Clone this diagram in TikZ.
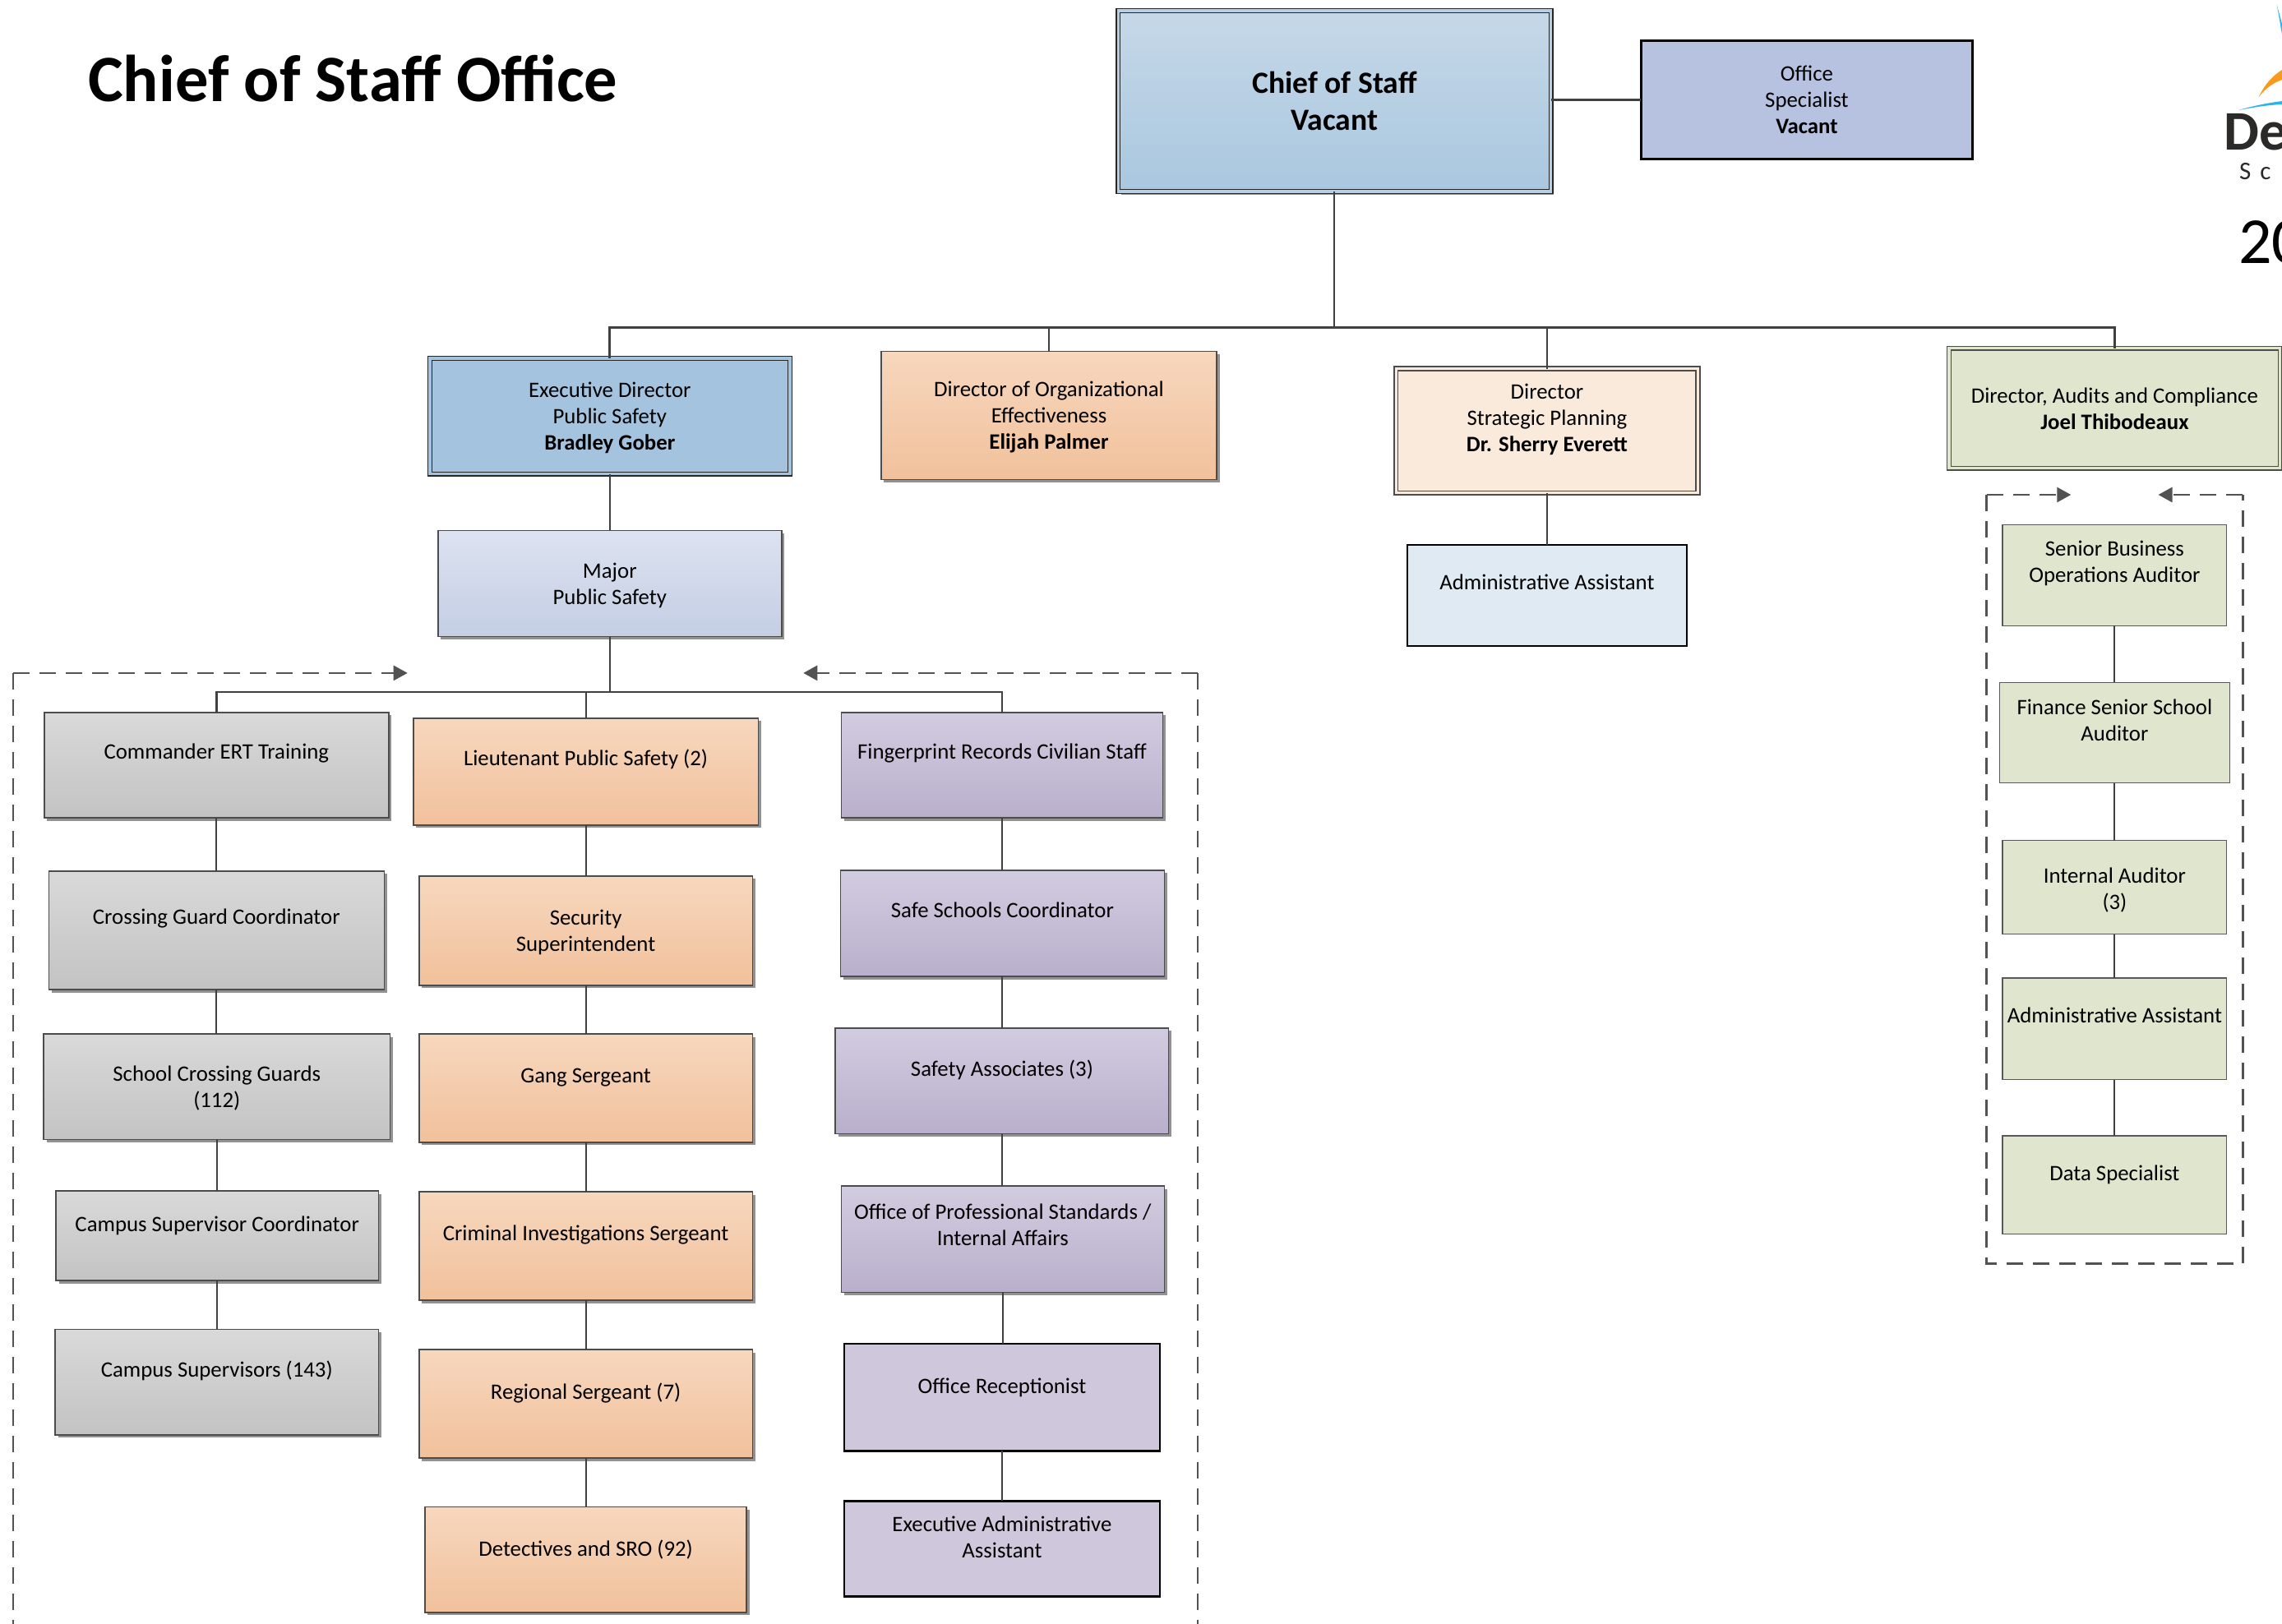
\documentclass[tikz,border=0pt]{standalone}
\usepackage{fontspec}
\setmainfont{Carlito}
\usetikzlibrary{shadows,arrows.meta}
\tikzset{
  base/.style={rectangle,inner sep=0pt,outer sep=0pt,font=\fontsize{26.8}{32}\selectfont,text=black},
  shad/.style={drop shadow={shadow xshift=3.5pt,shadow yshift=-3.5pt,opacity=.65,fill=black!65}},
  greybox/.style={base,shad,draw=black!70,line width=1.6pt,top color=gtop,bottom color=gbot},
  orangebox/.style={base,shad,draw=black!70,line width=1.6pt,top color=otop,bottom color=obot},
  purplebox/.style={base,shad,draw=black!70,line width=1.6pt,top color=ptop,bottom color=pbot},
  purpleflat/.style={base,draw=black,line width=2.6pt,fill=pflat},
  majorbox/.style={base,shad,draw=black!70,line width=1.6pt,top color=mtop,bottom color=mbot},
  chiefbox/.style={base,shad,draw=black!85,line width=1.4pt,double=ctop!50!cbot,double distance=3.4pt,top color=ctop,bottom color=cbot,font=\fontsize{37.6}{45}\selectfont\bfseries},
  officebox/.style={base,draw=black,line width=2.8pt,fill=offc},
  execbox/.style={base,draw=black!85,line width=1.4pt,double=exc,double distance=3.4pt,fill=exc},
  stratbox/.style={base,draw=black!70,line width=1.4pt,double=stc,double distance=3.4pt,fill=stc},
  auditbox/.style={base,draw=black!70,line width=1.4pt,double=grn,double distance=3.4pt,fill=grn},
  greenbox/.style={base,draw=black!65,line width=1.3pt,fill=grn},
  adminbox/.style={base,draw=black,line width=2.4pt,fill=adm},
  conn/.style={draw=black!75,line width=2pt},
  busline/.style={draw=black!75,line width=2.8pt},
  dashline/.style={draw=black!68,line width=2.8pt,dash pattern=on 20pt off 12pt},
  dashtip/.style={dashline,-{Triangle[length=17pt,width=18pt]}},
  titletext/.style={font=\fontsize{80.6}{90}\selectfont\bfseries,anchor=base west,inner sep=0pt,text=black},
  logotext/.style={anchor=base west,inner sep=0pt},
}
\definecolor{gtop}{HTML}{D9D9D9}\definecolor{gbot}{HTML}{C3C3C3}
\definecolor{otop}{HTML}{F7D7BE}\definecolor{obot}{HTML}{F1C19B}
\definecolor{ptop}{HTML}{D2CCE0}\definecolor{pbot}{HTML}{B9AFCC}
\definecolor{pflat}{HTML}{CFC8DD}
\definecolor{mtop}{HTML}{DCE2F0}\definecolor{mbot}{HTML}{C4CEE4}
\definecolor{ctop}{HTML}{C6D8E8}\definecolor{cbot}{HTML}{A9C7DF}
\definecolor{offc}{HTML}{B7C1E0}
\definecolor{exc}{HTML}{A3C3DE}
\definecolor{stc}{HTML}{FAEADB}
\definecolor{grn}{HTML}{E0E5CE}
\definecolor{adm}{HTML}{E0EAF2}
\definecolor{logoblue}{HTML}{29B5E8}
\definecolor{logoorange}{HTML}{F89B1C}
\definecolor{logodark}{HTML}{2B2A29}
\newcommand{\boxn}[8]{%
  \pgfmathsetmacro\bw{(#5-#3)*1.7704}%
  \pgfmathsetmacro\bh{(#6-#4)*1.7706}%
  \pgfmathsetmacro\dd{(#7-1.2)*1.7706}%
  \node[#2,minimum width=\bw pt,minimum height=\bh pt] (#1) at ({(#3+#5)/2},{(#4+#6)/2})
    {\raisebox{\dimexpr\dd pt-.25em\relax}[0pt][0pt]{\begin{tabular}{@{}c@{}}#8\end{tabular}}};%
}
\newcommand{\chainn}[2]{\draw[conn] (#1.south) -- (#1.south |- #2.north);}
\begin{document}
\begin{tikzpicture}[x=1.7704pt,y=-1.7706pt]
\useasboundingbox[fill=white] (0,0) rectangle (1568,1116);

\node[titletext] (title) at (60.5,69.5) {Chief of Staff Office};

\boxn{chief}{chiefbox}{768.3}{7.3}{1065.7}{131.7}{1}{Chief of Staff\\Vacant}
\boxn{office}{officebox}{1127.5}{28}{1355.5}{109.5}{0}{Office\\Specialist\\\textbf{Vacant}}

\boxn{exec}{execbox}{295.3}{246.3}{542.7}{325.7}{0}{Executive Director\\Public Safety\\\textbf{Bradley Gober}}
\boxn{org}{orangebox}{605.5}{241.5}{836}{329.5}{0}{Director of Organizational\\Effectiveness\\\textbf{Elijah Palmer}}
\boxn{strat}{stratbox}{959.3}{253.3}{1166.7}{338.7}{9}{Director\\Strategic Planning\\\textbf{Dr. Sherry Everett}}
\boxn{audit}{auditbox}{1339.3}{239.3}{1566.7}{321.7}{-0.5}{Director, Audits and Compliance\\\textbf{Joel Thibodeaux}}

\boxn{major}{majorbox}{301}{364.5}{537}{437.5}{0}{Major\\Public Safety}
\boxn{admin}{adminbox}{967}{374.5}{1159}{444}{9}{Administrative Assistant}

\boxn{cmd}{greybox}{30.5}{489.5}{267}{562}{9}{Commander ERT Training}
\boxn{cross}{greybox}{33.5}{598.5}{264}{680}{9}{Crossing Guard Coordinator}
\boxn{school}{greybox}{30}{710.5}{268}{783}{0}{School Crossing Guards\\(112)}
\boxn{campc}{greybox}{38.5}{818.5}{260}{880}{8}{Campus Supervisor Coordinator}
\boxn{camps}{greybox}{38}{913.5}{260}{986}{8.5}{Campus Supervisors (143)}

\boxn{lieut}{orangebox}{284}{493.5}{521}{567}{9}{Lieutenant Public Safety (2)}
\boxn{secur}{orangebox}{288}{602}{517}{677}{0}{Security\\Superintendent}
\boxn{gang}{orangebox}{288}{710.5}{517}{785}{8.5}{Gang Sergeant}
\boxn{crim}{orangebox}{288}{819}{517}{893.5}{9}{Criminal Investigations Sergeant}
\boxn{regi}{orangebox}{288}{927.5}{517}{1002}{8.5}{Regional Sergeant (7)}
\boxn{detec}{orangebox}{292}{1035.5}{513}{1108}{7.5}{Detectives and SRO (92)}

\boxn{finger}{purplebox}{578}{489.5}{799}{562}{9}{Fingerprint Records Civilian Staff}
\boxn{safe}{purplebox}{577.5}{598}{800}{671}{9}{Safe Schools Coordinator}
\boxn{assoc}{purplebox}{574}{706.5}{803}{779}{8.5}{Safety Associates (3)}
\boxn{profs}{purplebox}{578}{815}{800}{888}{9.5}{Office of Professional Standards /\\Internal Affairs}
\boxn{recep}{purpleflat}{580}{923.5}{797}{997}{8}{Office Receptionist}
\boxn{eadm}{purpleflat}{580}{1031.5}{797}{1097}{8}{Executive Administrative\\Assistant}

\boxn{senior}{greenbox}{1376}{360.5}{1530}{430}{9}{Senior Business\\Operations Auditor}
\boxn{finan}{greenbox}{1374}{469}{1532}{538}{8.5}{Finance Senior School\\Auditor}
\boxn{inter}{greenbox}{1376}{577.5}{1530}{642}{-1}{Internal Auditor\\(3)}
\boxn{aadm}{greenbox}{1376}{672}{1530}{742}{9}{Administrative Assistant}
\boxn{data}{greenbox}{1376}{780.5}{1530}{848}{8}{Data Specialist}

% connectors
\coordinate (busa) at (916.5,225);
\coordinate (busb) at (419,475.5);
\draw[conn] (chief.south) -- (chief.south |- busa);
\draw[busline] (chief.east |- office.west) -- (office.west);
\draw[busline] (exec.north) |- (busa) -| (audit.north);
\draw[conn] (org.north) -- (org.north |- busa);
\draw[conn] (strat.north) -- (strat.north |- busa);
\draw[conn] (exec.south) -- (major.north);
\draw[conn] (strat.south) -- (admin.north);
\draw[conn,line width=2.4pt] (major.south) -- (major.south |- busb);
\draw[busline] (cmd.north) |- (busb) -| (finger.north);
\draw[conn] (lieut.north) -- (lieut.north |- busb);
\chainn{cmd}{cross}\chainn{cross}{school}\chainn{school}{campc}\chainn{campc}{camps}
\chainn{lieut}{secur}\chainn{secur}{gang}\chainn{gang}{crim}\chainn{crim}{regi}\chainn{regi}{detec}
\chainn{finger}{safe}\chainn{safe}{assoc}\chainn{assoc}{profs}\chainn{profs}{recep}\chainn{recep}{eadm}
\chainn{senior}{finan}\chainn{finan}{inter}\chainn{inter}{aadm}\chainn{aadm}{data}

% dashed brackets
\coordinate (la) at (9,462.5);
\coordinate (lb) at (280,462.5);
\coordinate (lc) at (9,1116);
\coordinate (ra) at (823,462.5);
\coordinate (rb) at (552,462.5);
\coordinate (rc) at (823,1116);
\draw[dashtip] (la) -- (lb);
\draw[dashline] (la) -- (lc);
\draw[dashtip] (ra) -- (rb);
\draw[dashline] (ra) -- (rc);
\coordinate (sa) at (1365,340);
\coordinate (sb) at (1423,340);
\coordinate (sc) at (1541,340);
\coordinate (sd) at (1483,340);
\coordinate (se) at (1365,868.5);
\coordinate (sf) at (1541,868.5);
\draw[dashtip] (sa) -- (sb);
\draw[dashtip] (sc) -- (sd);
\draw[dashline] (sa) -- (se) -- (sf) -- (sc);

% logo, cut off by the page edge
\begin{scope}[x=1pt,y=-1pt]
  \fill[logoblue] (2769.5,5) -- (2776,29) -- (2776,42) .. controls (2774,30) and (2772,18) .. cycle;
  \fill[logoorange] (2747.5,118.5) .. controls (2755,102) and (2765,92) .. (2776,85) -- (2776,97) .. controls (2765,101) and (2755,108) .. cycle;
  \fill[logoblue] (2723,134) .. controls (2740,129) and (2760,125) .. (2776,123) -- (2776,127) .. controls (2755,128) and (2740,131) .. cycle;
  \node[logotext,font=\fontsize{68}{70}\selectfont\bfseries,text=logodark] (logoa) at (2705,182) {De};
  \node[logotext,font=\fontsize{31}{34}\selectfont,text=logodark] (logob) at (2724,218) {S\hspace{11pt}c};
  \node[logotext,font=\fontsize{80}{90}\selectfont,text=black] (logoc) at (2723,320) {20};
\end{scope}
\end{tikzpicture}
\end{document}
